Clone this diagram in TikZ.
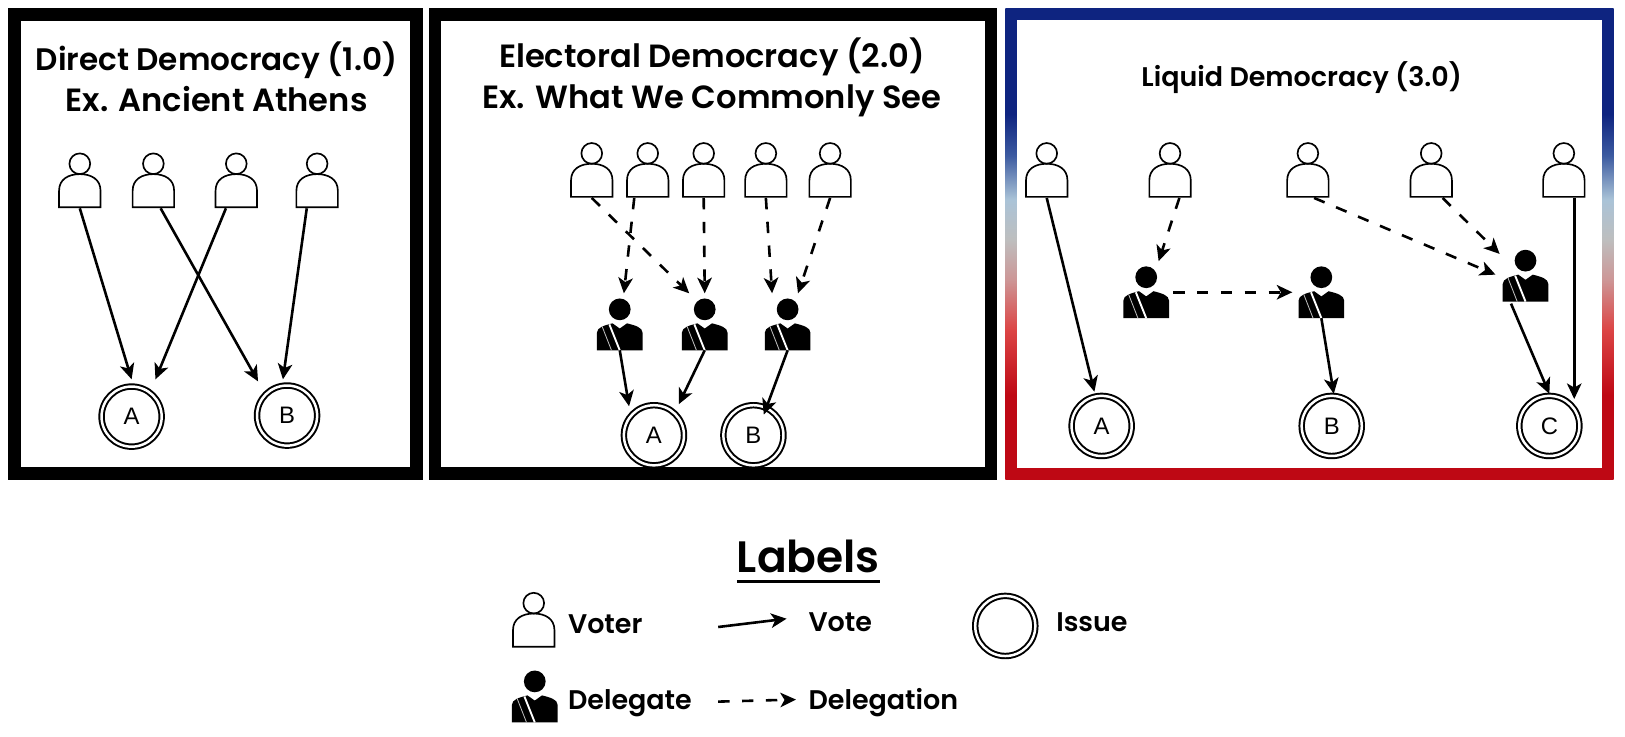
\documentclass[tikz,border=0pt]{standalone}
\usepackage{fontspec}
\setmainfont{Poppins}[BoldFont={Poppins SemiBold}]
\newfontfamily\issuefont{Liberation Sans}
\usetikzlibrary{arrows.meta}
\definecolor{frameNavy}{RGB}{14,36,128}
\definecolor{frameMidBlue}{RGB}{60,90,160}
\definecolor{framePale}{RGB}{170,195,215}
\definecolor{frameGray}{RGB}{190,190,190}
\definecolor{framePink}{RGB}{205,150,150}
\definecolor{frameRose}{RGB}{220,70,70}
\definecolor{frameRed}{RGB}{190,8,20}
\pgfdeclareverticalshading{liquidframe}{100bp}{color(0bp)=(frameRed); color(34bp)=(frameRed); color(41bp)=(frameRose); color(46.2bp)=(framePink); color(50.4bp)=(frameGray); color(54.7bp)=(framePale); color(59.4bp)=(frameMidBlue); color(63.8bp)=(frameNavy); color(100bp)=(frameNavy)}
\newcommand{\thickunder}[1]{\vtop{\hbox{#1}\kern7pt\hrule height 3pt}}
\tikzset{
    panelframe/.style={draw=black,line width=12pt},
    titletext/.style={align=center,font=\fontsize{#1}{39}\selectfont\bfseries},
    keytext/.style={anchor=base west,inner sep=0pt,font=\fontsize{26}{30}\selectfont\bfseries},
    voter/.style={rectangle,inner sep=0pt,outer sep=0pt,minimum width=44pt,minimum height=54pt,
        path picture={
            \begin{scope}[shift={(path picture bounding box.center)},line width=1.6pt]
                \draw (0,-16) circle (10);
                \draw (-20,26) -- (-20,10) .. controls (-20,-1) and (-11,-6) .. (0,-6) .. controls (11,-6) and (20,-1) .. (20,10) -- (20,26) -- cycle;
            \end{scope}
        }},
    delegate/.style={rectangle,inner sep=0pt,outer sep=0pt,minimum width=44pt,minimum height=50pt,
        path picture={
            \begin{scope}[shift={(path picture bounding box.center)}]
                \fill (0,-14.5) circle (10.5);
                \fill (-22,25) -- (-22,8) .. controls (-22,3) and (-15,1) .. (-7,-1) -- (0,4) -- (7,-1) .. controls (15,1) and (22,3) .. (22,8) -- (22,25) -- cycle;
                \draw[white,line width=1.8pt] (-10,0) -- (0,25);
                \draw[white!75!black,line width=.8pt] (-17,2) -- (-8,25);
            \end{scope}
        }},
    issue/.style={circle,draw,double,line width=1.9pt,double distance=2.4pt,inner sep=0pt,outer sep=0pt,minimum size=58pt,font=\fontsize{23}{27}\selectfont\issuefont},
    votearrow/.style={-{Stealth[length=15pt,width=14pt,inset=4pt]},line width=2.5pt},
    delegationarrow/.style={votearrow,dash pattern=on 11pt off 12pt},
}
\begin{document}
\begin{tikzpicture}[x=1pt,y=-1pt]
    \useasboundingbox (0,0) rectangle (1568,710.2);

    % frames
    \draw[panelframe] (14,14) rectangle (402,457);
    \draw[panelframe] (420,14) rectangle (956,457);
    \shade[shading=liquidframe] (970,8) rectangle (1557,463);
    \fill[white] (981,19) rectangle (1546,452);

    \node[titletext=30] (direct) at (209,74) {Direct Democracy (1.0)\\{\fontsize{31}{39}\selectfont Ex. Ancient Athens}};
    \node[titletext=31] (electoral) at (687,74.5) {Electoral Democracy (2.0)\\Ex. What We Commonly See};
    \node[titletext=26] (liquid) at (1256,75) {Liquid Democracy (3.0)};

    % direct
    \node[voter] (a1) at (77,174) {};
    \node[voter] (a2) at (148,174) {};
    \node[voter] (a3) at (228,174) {};
    \node[voter] (a4) at (306,174) {};
    \node[issue] (aA) at (127,402) {A};
    \node[issue] (aB) at (277,401) {B};

    \path [votearrow] (a1.south) edge ([shift={(0,-36)}]aA.center);
    \path [votearrow] ([shift={(7,0)}]a2.south) edge ([shift={(-28,-33)}]aB.center);
    \path [votearrow] ([shift={(-10,0)}]a3.south) edge ([shift={(23,-36)}]aA.center);
    \path [votearrow] ([shift={(-10,0)}]a4.south) edge ([shift={(-4,-35)}]aB.center);

    % electoral
    \node[voter] (b1) at (571,164) {};
    \node[voter] (b2) at (625,164) {};
    \node[voter] (b3) at (679,164) {};
    \node[voter] (b4) at (739,164) {};
    \node[voter] (b5) at (801,164) {};
    \node[delegate] (bd1) at (598,313) {};
    \node[delegate] (bd2) at (680,313) {};
    \node[delegate] (bd3) at (760,313) {};
    \node[issue] (bA) at (631,420) {A};
    \node[issue] (bB) at (727,420) {B};

    \path [delegationarrow] (b1.south) edge ([shift={(-15,-5)}]bd2.north);
    \path [delegationarrow] ([shift={(-13,0)}]b2.south) edge ([shift={(4,-5)}]bd1.north);
    \path [delegationarrow] (b3.south) edge ([shift={(0,-5)}]bd2.north);
    \path [delegationarrow] (b4.south) edge ([shift={(-15,-5)}]bd3.north);
    \path [delegationarrow] (b5.south) edge ([shift={(10,-5)}]bd3.north);
    \path [votearrow] (bd1.south) edge ([shift={(-24,-28)}]bA.center);
    \path [votearrow] (bd2.south) edge ([shift={(24,-30)}]bA.center);
    \path [votearrow] (bd3.south) edge ([shift={(10,-20)}]bB.center);

    % liquid
    \node[voter] (c1) at (1010,164) {};
    \node[voter] (c2) at (1129,164) {};
    \node[voter] (c3) at (1262,164) {};
    \node[voter] (c4) at (1381,164) {};
    \node[voter] (c5) at (1509,164) {};
    \node[delegate] (cd1) at (1106,282) {};
    \node[delegate] (cd2) at (1275,282) {};
    \node[delegate] (cd3) at (1472,266) {};
    \node[issue] (cA) at (1063,411) {A};
    \node[issue] (cB) at (1285,411) {B};
    \node[issue] (cC) at (1495,411) {C};

    \path [votearrow] (c1.south) edge ([shift={(-7,-33)}]cA.center);
    \path [delegationarrow] ([shift={(9,0)}]c2.south) edge ([shift={(12,-5)}]cd1.north);
    \path [delegationarrow] ([shift={(4,0)}]cd1.east) edge ([shift={(-6,0)}]cd2.west);
    \path [delegationarrow] ([shift={(6,0)}]c3.south) edge ([shift={(-7,-1)}]cd3.west);
    \path [delegationarrow] ([shift={(11,0)}]c4.south) edge ([shift={(-25,4)}]cd3.north);
    \path [votearrow] ([shift={(-14,2)}]cd3.south) edge ([shift={(0,-31)}]cC.center);
    \path [votearrow] ([shift={(10,0)}]c5.south) edge ([shift={(24,-26)}]cC.center);
    \path [votearrow] (cd2.south) edge ([shift={(2,-31)}]cB.center);

    % legend
    \node[anchor=base,font=\fontsize{42.4}{48}\selectfont\bfseries] (labels) at (780,552) {\thickunder{Labels}};
    \node[voter] (keyvoter) at (515,598) {};
    \node[delegate] (keydelegate) at (516,672) {};
    \node[issue] (keyissue) at (970,604) {};
    \node[keytext] (keyvotertext) at (548,611) {Voter};
    \node[keytext] (keydelegatetext) at (548,685) {Delegate};
    \node[keytext] (keyvotetext) at (780,609) {Vote};
    \node[keytext] (keydelegationtext) at (780,685) {Delegation};
    \node[keytext] (keyissuetext) at (1019,609) {Issue};
    \coordinate (votefrom) at (693,605);
    \coordinate (voteto) at (759,597);
    \coordinate (delegationfrom) at (693,677);
    \coordinate (delegationto) at (768,675);
    \path [votearrow] (votefrom) edge (voteto);
    \path [delegationarrow] (delegationfrom) edge (delegationto);
\end{tikzpicture}
\end{document}
